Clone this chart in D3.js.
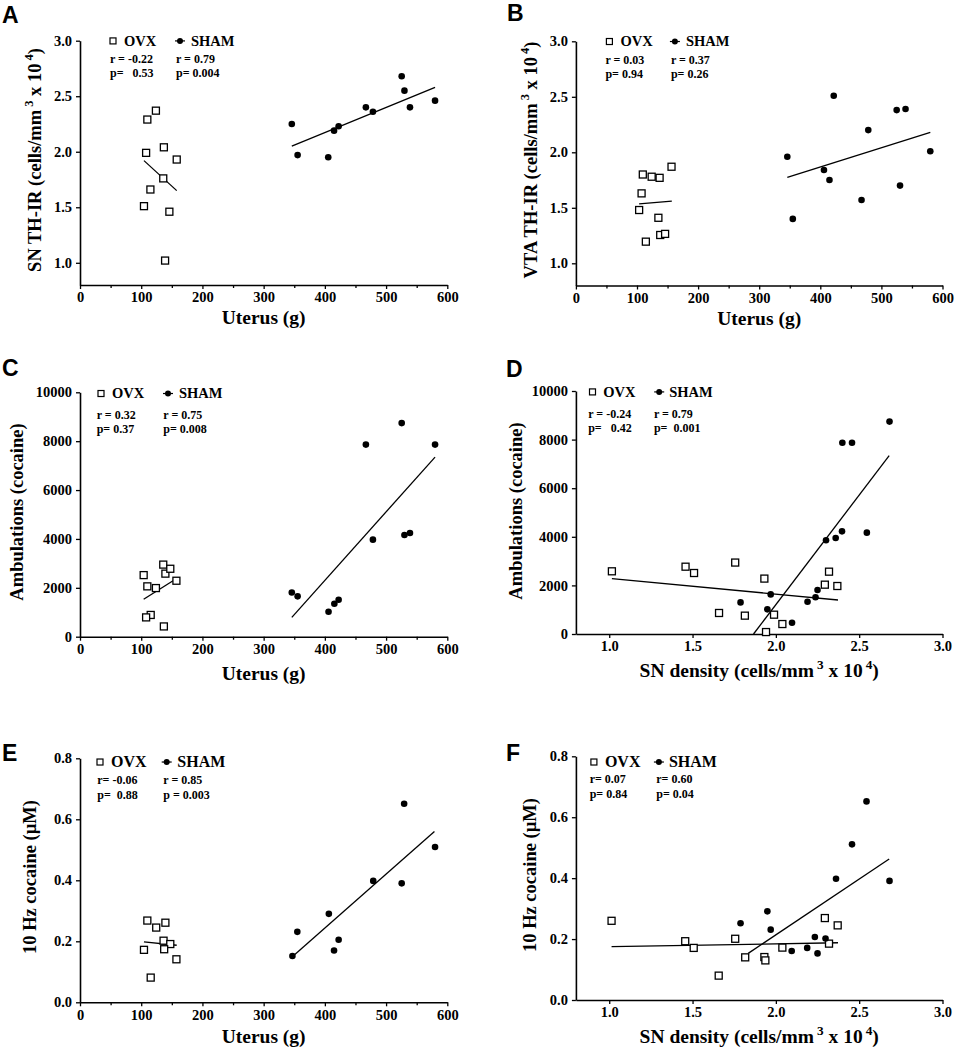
<!DOCTYPE html>
<html>
<head>
<meta charset="utf-8">
<script src="https://cdn.jsdelivr.net/npm/d3@7"></script>
<style>
html,body{margin:0;padding:0;background:#fff;}
svg{display:block;}
</style>
</head>
<body>
<svg id="chart" width="955" height="1050"></svg>
<script>
// ---------- tick values ----------
const uterusTicks = [0, 100, 200, 300, 400, 500, 600];
const uterusMinor = [50, 150, 250, 350, 450, 550];
const densityTicks = [1.0, 1.5, 2.0, 2.5, 3.0];
const thTicks = [1.0, 1.5, 2.0, 2.5, 3.0];
const ambTicks = [0, 2000, 4000, 6000, 8000, 10000];
const hzTicks = [0.0, 0.2, 0.4, 0.6, 0.8];

// ---------- data: [x, y] ----------
const A_OVX = [[124,2.37],[110,2.29],[108,1.99],[137,2.04],[158,1.93],[136,1.76],[115,1.66],[104.5,1.51],[146,1.46],[139,1.02]];
const A_SHAM = [[346,2.25],[355.5,1.97],[405.5,1.95],[415,2.19],[422.5,2.23],[467,2.40],[478.5,2.36],[525.5,2.68],[530,2.55],[539,2.40],[580,2.46]];
const A_FIT_OVX = [[104.5,1.92],[158,1.65]];
const A_FIT_SHAM = [[346,2.05],[580,2.58]];

const B_OVX = [[109.5,1.80],[124,1.78],[137,1.77],[156.5,1.87],[107.5,1.63],[103.5,1.48],[135,1.41],[138,1.255],[146,1.265],[114.5,1.195]];
const B_SHAM = [[346,1.96],[355,1.40],[406,1.84],[415,1.75],[422,2.51],[478.5,2.20],[467.5,1.57],[525,2.38],[539.5,2.39],[530.5,1.70],[580,2.01]];
const B_FIT_OVX = [[103.5,1.535],[157,1.56]];
const B_FIT_SHAM = [[346,1.775],[580,2.18]];

const C_OVX = [[104,2520],[110,2060],[124,1990],[136,2950],[139.5,2580],[147.5,2780],[157.5,2290],[115.5,890],[108,790],[137,420]];
const C_SHAM = [[346,1810],[355.5,1650],[406,1020],[415.5,1350],[422.5,1510],[467,7860],[478.5,3970],[525.5,8740],[530,4160],[539,4240],[580,7860]];
const C_FIT_OVX = [[104,1530],[152,2290]];
const C_FIT_SHAM = [[346,790],[580,7350]];

const D_OVX = [[1.016,2580],[1.458,2770],[1.509,2510],[1.756,2940],[1.931,2280],[2.294,2030],[2.319,2565],[2.369,1975],[1.659,865],[1.814,755],[1.989,795],[2.039,410],[1.941,80]];
const D_SHAM = [[2.682,8740],[2.399,7870],[2.457,7870],[2.397,4225],[2.359,3950],[2.301,3855],[2.546,4170],[2.250,1810],[2.238,1510],[2.190,1330],[1.969,1630],[1.949,1015],[1.788,1300],[2.097,465]];
const D_FIT_OVX = [[1.016,2280],[2.373,1400]];
const D_FIT_SHAM = [[1.866,0],[2.680,7340]];

const E_OVX = [[110,0.268],[124.5,0.245],[139.5,0.261],[136.5,0.202],[147.5,0.191],[104.5,0.172],[137.5,0.174],[157.5,0.141],[115.5,0.081]];
const E_SHAM = [[347,0.152],[355,0.231],[406.5,0.290],[415,0.170],[422.5,0.205],[479,0.398],[525.5,0.390],[529.5,0.651],[580,0.509]];
const E_FIT_OVX = [[104.5,0.198],[158,0.187]];
const E_FIT_SHAM = [[350,0.155],[579,0.560]];

const F_OVX = [[1.014,0.260],[1.456,0.193],[1.507,0.171],[1.756,0.201],[2.294,0.269],[2.371,0.245],[2.319,0.185],[2.039,0.172],[1.816,0.140],[1.931,0.141],[1.937,0.130],[1.657,0.080]];
const F_SHAM = [[2.544,0.652],[2.457,0.511],[2.361,0.398],[2.682,0.391],[1.949,0.291],[1.788,0.252],[1.969,0.231],[2.234,0.207],[2.298,0.202],[2.188,0.171],[2.095,0.161],[2.250,0.153]];
const F_FIT_OVX = [[1.014,0.175],[2.373,0.188]];
const F_FIT_SHAM = [[1.834,0.153],[2.680,0.463]];

// ---------- stats text ----------
const statsA = ["r = -0.22", "p=   0.53", "r = 0.79", "p= 0.004"];
const statsB = ["r = 0.03", "p= 0.94", "r = 0.37", "p= 0.26"];
const statsC = ["r = 0.32", "p= 0.37", "r = 0.75", "p= 0.008"];
const statsD = ["r = -0.24", "p=   0.42", "r = 0.79", "p=  0.001"];
const statsE = ["r= -0.06", "p=  0.88", "r = 0.85", "p = 0.003"];
const statsF = ["r= 0.07", "p= 0.84", "r= 0.60", "p= 0.04"];

// ---------- titles ----------
const titleSN = [{t:"SN TH-IR (cells/mm"},{t:"3",sup:true},{t:" x 10"},{t:"4",sup:true},{t:")"}];
const titleVTA = [{t:"VTA TH-IR (cells/mm"},{t:"3",sup:true},{t:" x 10"},{t:"4",sup:true},{t:")"}];
const titleAmb = [{t:"Ambulations (cocaine)"}];
const titleHz = [{t:"10 Hz cocaine (\u00B5M)"}];
const titleUterus = [{t:"Uterus (g)"}];
const titleDensity = [{t:"SN density (cells/mm"},{t:"3",sup:true},{t:" x 10"},{t:"4",sup:true},{t:")"}];

// ---------- panel layout ----------
const SERIF = "'Liberation Serif', 'Times New Roman', serif";
const LX = [80, 447.3], RX = [575.9, 942.5];
const panels = [
  {id:"A", letter:[2,23], xr:LX, yr:[285,40.7], xd:[0,600], yd:[0.8,3.0], xt:uterusTicks, xm:uterusMinor, yt:thTicks, xf:d3.format("d"), yf:d3.format(".1f"),
   ovx:A_OVX, sham:A_SHAM, fo:A_FIT_OVX, fs:A_FIT_SHAM, stats:statsA, yTitle:titleSN, yTitleX:41, yTitleY:160, xTitle:titleUterus, xTitleY:324,
   leg:{sq:33, ovx:44, ci:100, sham:111, r1:30, r2:96, ly:5, ry:22.5, py:36.5, fs:14.5}},
  {id:"B", letter:[507,21], xr:RX, yr:[285.5,41.3], xd:[0,600], yd:[0.8,3.0], xt:uterusTicks, xm:uterusMinor, yt:thTicks, xf:d3.format("d"), yf:d3.format(".1f"),
   ovx:B_OVX, sham:B_SHAM, fo:B_FIT_OVX, fs:B_FIT_SHAM, stats:statsB, yTitle:titleVTA, yTitleX:537, yTitleY:160, xTitle:titleUterus, xTitleY:325,
   leg:{sq:33.5, ovx:44.5, ci:99, sham:110, r1:29.5, r2:95, ly:5, ry:22.5, py:36.5, fs:14.5}},
  {id:"C", letter:[2,376], xr:LX, yr:[636.7,392.3], xd:[0,600], yd:[0,10000], xt:uterusTicks, xm:uterusMinor, yt:ambTicks, xf:d3.format("d"), yf:d3.format("d"),
   ovx:C_OVX, sham:C_SHAM, fo:C_FIT_OVX, fs:C_FIT_SHAM, stats:statsC, yTitle:titleAmb, yTitleX:23, yTitleY:512, xTitle:titleUterus, xTitleY:680,
   leg:{sq:21, ovx:32, ci:88, sham:99, r1:16.7, r2:83.3, ly:6, ry:27, py:41, fs:14.5}},
  {id:"D", letter:[506,377], xr:RX, yr:[634,391], xd:[0.8,3.0], yd:[0,10000], xt:densityTicks, xm:null, yt:ambTicks, xf:d3.format(".1f"), yf:d3.format("d"),
   ovx:D_OVX, sham:D_SHAM, fo:D_FIT_OVX, fs:D_FIT_SHAM, stats:statsD, yTitle:titleAmb, yTitleX:522, yTitleY:511, xTitle:titleDensity, xTitleY:677,
   leg:{sq:16.6, ovx:27.3, ci:83.3, sham:93.3, r1:12.3, r2:78, ly:5.7, ry:26.7, py:40.7, fs:14.5}},
  {id:"E", letter:[2,761], xr:LX, yr:[1002.3,758.3], xd:[0,600], yd:[0,0.8], xt:uterusTicks, xm:uterusMinor, yt:hzTicks, xf:d3.format("d"), yf:d3.format(".1f"),
   ovx:E_OVX, sham:E_SHAM, fo:E_FIT_OVX, fs:E_FIT_SHAM, stats:statsE, yTitle:titleHz, yTitleX:36, yTitleY:877, xTitle:titleUterus, xTitleY:1043,
   leg:{sq:20, ovx:31, ci:86.7, sham:97.3, r1:17.3, r2:83.3, ly:9, ry:26, py:41, fs:16}},
  {id:"F", letter:[506,761], xr:RX, yr:[1000,756.3], xd:[0.8,3.0], yd:[0,0.8], xt:densityTicks, xm:null, yt:hzTicks, xf:d3.format(".1f"), yf:d3.format(".1f"),
   ovx:F_OVX, sham:F_SHAM, fo:F_FIT_OVX, fs:F_FIT_SHAM, stats:statsF, yTitle:titleHz, yTitleX:536, yTitleY:875, xTitle:titleDensity, xTitleY:1043,
   leg:{sq:18, ovx:29, ci:83, sham:93, r1:13.8, r2:80.4, ly:11, ry:27, py:42, fs:16}}
];

const svg = d3.select("#chart");
const SQ = 7, CR = 3.3;

function serifText(sel, size) {
  return sel.attr("font-family", SERIF).attr("font-weight", "bold").attr("font-size", size).attr("fill", "#000");
}

function richText(sel, parts, size) {
  parts.forEach((p, i) => {
    const ts = sel.append("tspan").text(p.t);
    if (p.sup) {
      ts.attr("font-size", size * 0.68).attr("dy", -size * 0.42).attr("dx", 3);
    } else if (i > 0 && parts[i-1].sup) {
      ts.attr("dy", size * 0.42);
    }
  });
}

panels.forEach(P => {
  const g = svg.append("g");
  const x = d3.scaleLinear().domain(P.xd).range(P.xr);
  const y = d3.scaleLinear().domain(P.yd).range(P.yr);
  const bottom = P.yr[0], left = P.xr[0];

  // panel letter
  g.append("text").attr("x", P.letter[0]).attr("y", P.letter[1])
    .attr("font-family", "'Liberation Sans', Arial, sans-serif").attr("font-weight", "bold")
    .attr("font-size", 23).text(P.id);

  // axes
  const xa = g.append("g").attr("transform", `translate(0,${bottom})`)
    .call(d3.axisBottom(x).tickValues(P.xt).tickFormat(P.xf).tickSize(4).tickSizeOuter(0).tickPadding(3));
  if (P.xm) {
    g.append("g").attr("transform", `translate(0,${bottom})`)
      .call(d3.axisBottom(x).tickValues(P.xm).tickFormat("").tickSize(3).tickSizeOuter(0))
      .call(s => s.select(".domain").remove());
  }
  const ya = g.append("g").attr("transform", `translate(${left},0)`)
    .call(d3.axisLeft(y).tickValues(P.yt).tickFormat(P.yf).tickSize(4).tickSizeOuter(0).tickPadding(4));
  [xa, ya].forEach(a => a.attr("font-family", SERIF).attr("font-weight", "bold").attr("font-size", 14.5));
  g.selectAll(".domain").attr("stroke", "#000").attr("stroke-width", 1.6);
  g.selectAll(".tick line").attr("stroke", "#000").attr("stroke-width", 1.3);
  serifText(g.selectAll(".tick text"), 14.5);

  // fit lines
  const line = d3.line().x(d => x(d[0])).y(d => y(d[1]));
  [P.fo, P.fs].forEach(f => {
    g.append("path").attr("d", line(f)).attr("fill", "none").attr("stroke", "#000").attr("stroke-width", 1.3);
  });

  // OVX squares
  g.selectAll(".sq").data(P.ovx).enter().append("rect")
    .attr("x", d => x(d[0]) - SQ/2).attr("y", d => y(d[1]) - SQ/2)
    .attr("width", SQ).attr("height", SQ)
    .attr("fill", "#fff").attr("stroke", "#000").attr("stroke-width", 1.3);
  // SHAM circles
  g.selectAll(".ci").data(P.sham).enter().append("circle")
    .attr("cx", d => x(d[0])).attr("cy", d => y(d[1])).attr("r", CR).attr("fill", "#000");

  // legend
  const top = P.yr[1];
  const L = P.leg;
  const ly = top + L.ly;
  const my = ly - L.fs * 0.33;
  g.append("rect").attr("x", left + L.sq - 3).attr("y", my - 3).attr("width", 6).attr("height", 6)
    .attr("fill", "#fff").attr("stroke", "#000").attr("stroke-width", 1.2);
  serifText(g.append("text"), L.fs).attr("x", left + L.ovx).attr("y", ly).text("OVX");
  g.append("line").attr("x1", left + L.ci - 5).attr("x2", left + L.ci + 5).attr("y1", my).attr("y2", my)
    .attr("stroke", "#000").attr("stroke-width", 1.2);
  g.append("circle").attr("cx", left + L.ci).attr("cy", my).attr("r", 3).attr("fill", "#000");
  serifText(g.append("text"), L.fs).attr("x", left + L.sham).attr("y", ly).text("SHAM");

  const st = [[L.r1, L.ry, P.stats[0]], [L.r1, L.py, P.stats[1]], [L.r2, L.ry, P.stats[2]], [L.r2, L.py, P.stats[3]]];
  st.forEach(s => {
    serifText(g.append("text"), 12).attr("x", left + s[0]).attr("y", top + s[1])
      .style("white-space", "pre").text(s[2]);
  });

  // axis titles
  const yt = serifText(g.append("text"), 18.5)
    .attr("text-anchor", "middle")
    .attr("transform", `translate(${P.yTitleX},${P.yTitleY}) rotate(-90)`);
  richText(yt, P.yTitle, 18.5);
  const xt = serifText(g.append("text"), 19.5)
    .attr("text-anchor", "middle")
    .attr("x", (P.xr[0] + P.xr[1]) / 2).attr("y", P.xTitleY);
  richText(xt, P.xTitle, 19.5);
});
</script>
</body>
</html>
